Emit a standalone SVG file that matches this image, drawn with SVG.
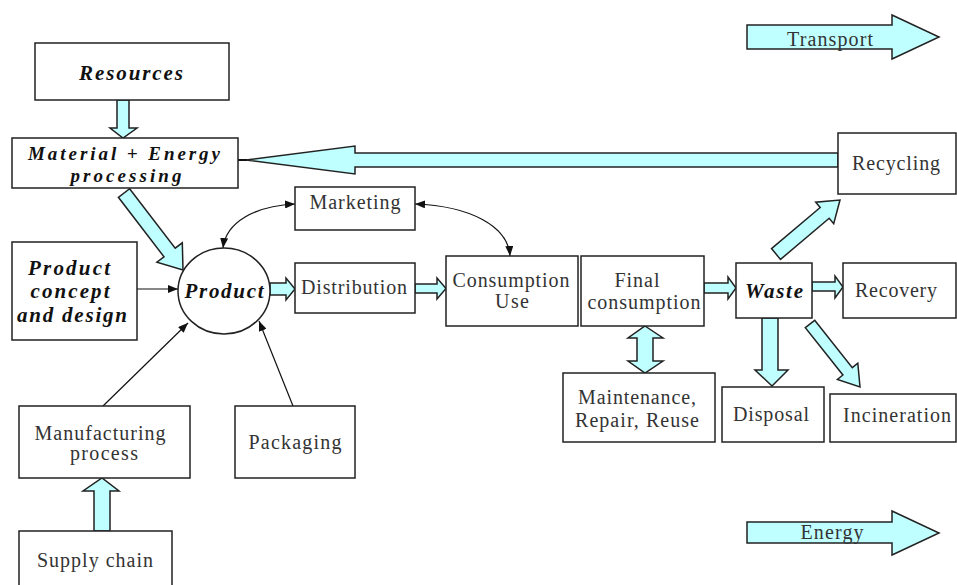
<svg xmlns="http://www.w3.org/2000/svg" width="957" height="585" viewBox="0 0 957 585">
<defs>
<style>
.box{fill:#fff;stroke:#222;stroke-width:1.5}
.fat{fill:#bfffff;stroke:#222;stroke-width:1.5;stroke-linejoin:miter}
.ln{fill:none;stroke:#111;stroke-width:1.2}
.t{font-family:"Liberation Serif","Times New Roman",serif;font-size:20px;fill:#333;text-anchor:middle}
.b{font-family:"Liberation Serif","Times New Roman",serif;font-size:21px;font-weight:bold;font-style:italic;fill:#111;text-anchor:middle}
.bs{font-size:19px}
</style>
<marker id="ah" viewBox="0 0 10 8" refX="10" refY="4" markerWidth="10" markerHeight="8" markerUnits="userSpaceOnUse" orient="auto-start-reverse">
<path d="M0,0 L10,4 L0,8 Z" fill="#111"/>
</marker>
</defs>
<rect width="957" height="585" fill="#fff"/>

<g id="connectors">
<polygon class="fat" points="117,100 129,100 129,128 137,128 123,138 110,128 117,128"/>
<polygon class="fat" points="129.6,188.7 175.2,248.2 182.3,242.8 183,270 156.9,262.2 164,256.8 118.4,197.3"/>
<polygon class="fat" points="838,153 355,153 355,146 246,160 355,174 355,167 838,167"/>
<line class="ln" x1="238" y1="160" x2="247" y2="160" style="stroke-width:2"/>
<polygon class="fat" points="270,283 286,283 286,278 295,289 286,300 286,295 270,295"/>
<polygon class="fat" points="415,284 437,284 437,278 446,288.5 437,299 437,293 415,293"/>
<polygon class="fat" points="704,283 728,283 728,277 736,288 728,299 728,293 704,293"/>
<polygon class="fat" points="812,282 835,282 835,276 843,287 835,298 835,291 812,291"/>
<polygon class="fat" points="771.5,248.6 820.2,207.5 815.7,202.2 840,200 833.7,223.7 829.2,218.3 780.5,259.4"/>
<polygon class="fat" points="762,318 778,318 778,370 788,370 772,386 755,370 762,370"/>
<polygon class="fat" points="814.7,320.3 852.3,367.6 857.8,363.2 860,387 837.4,379.4 842.9,375 805.3,327.7"/>
<polygon class="fat" points="645,326 663,338 653,338 653,361 663,361 645,373 628,361 637,361 637,338 628,338"/>
<polygon class="fat" points="94,531 110,531 110,491 119,491 102,478 83,491 94,491"/>
<line class="ln" x1="137" y1="289" x2="178" y2="289" marker-end="url(#ah)"/>
<line class="ln" x1="103" y1="406" x2="188" y2="323" marker-end="url(#ah)"/>
<line class="ln" x1="293" y1="406" x2="259" y2="321" marker-end="url(#ah)"/>
<path class="ln" d="M295,204 C255,206 226,222 223,248" marker-start="url(#ah)" marker-end="url(#ah)"/>
<path class="ln" d="M415,204 C470,206 508,226 510,256" marker-start="url(#ah)" marker-end="url(#ah)"/>
</g>

<g id="transport">
<polygon class="fat" points="747,25 892,25 892,15 939,37 892,59 892,49 747,49"/>
<text class="t" x="830" y="46" textLength="86" lengthAdjust="spacing">Transport</text>
</g>
<g id="energy">
<polygon class="fat" points="747,522 892,522 892,511 939,533 892,555 892,543 747,543"/>
<text class="t" x="832" y="539" textLength="63" lengthAdjust="spacing">Energy</text>
</g>

<g id="resources">
<rect class="box" x="35" y="43" width="194" height="57"/>
<text class="b" x="131" y="80" textLength="104" lengthAdjust="spacing">Resources</text>
</g>
<g id="material">
<rect class="box" x="12" y="138" width="226" height="50"/>
<text class="b bs" x="124" y="160" textLength="192" lengthAdjust="spacing">Material + Energy</text>
<text class="b bs" x="126" y="182" textLength="111" lengthAdjust="spacing">processing</text>
</g>
<g id="marketing">
<rect class="box" x="295" y="187" width="120" height="43"/>
<text class="t" x="355" y="209" textLength="91" lengthAdjust="spacing">Marketing</text>
</g>
<g id="concept">
<rect class="box" x="12" y="242" width="125" height="98"/>
<text class="b" x="69" y="275" textLength="82" lengthAdjust="spacing">Product</text>
<text class="b" x="70" y="298" textLength="79" lengthAdjust="spacing">concept</text>
<text class="b" x="72" y="322" textLength="110" lengthAdjust="spacing">and design</text>
</g>
<g id="product">
<ellipse class="box" cx="224" cy="291" rx="46" ry="43"/>
<text class="b" x="224" y="298" textLength="79" lengthAdjust="spacing">Product</text>
</g>
<g id="distribution">
<rect class="box" x="295" y="263" width="120" height="50"/>
<text class="t" x="354" y="294" textLength="106" lengthAdjust="spacing">Distribution</text>
</g>
<g id="consumption">
<rect class="box" x="446" y="256" width="132" height="70"/>
<text class="t" x="511" y="287" textLength="117" lengthAdjust="spacing">Consumption</text>
<text class="t" x="512" y="308" textLength="34" lengthAdjust="spacing">Use</text>
</g>
<g id="final">
<rect class="box" x="581" y="256" width="123" height="70"/>
<text class="t" x="637" y="287" textLength="45" lengthAdjust="spacing">Final</text>
<text class="t" x="644" y="309" textLength="113" lengthAdjust="spacing">consumption</text>
</g>
<g id="waste">
<rect class="box" x="736" y="263" width="76" height="55"/>
<text class="b" x="774" y="298" textLength="58" lengthAdjust="spacing">Waste</text>
</g>
<g id="recovery">
<rect class="box" x="843" y="263" width="113" height="55"/>
<text class="t" x="896" y="297" textLength="82" lengthAdjust="spacing">Recovery</text>
</g>
<g id="recycling">
<rect class="box" x="838" y="133" width="118" height="61"/>
<text class="t" x="896" y="170" textLength="88" lengthAdjust="spacing">Recycling</text>
</g>
<g id="maintenance">
<rect class="box" x="563" y="373" width="152" height="69"/>
<text class="t" x="637" y="404" textLength="118" lengthAdjust="spacing">Maintenance,</text>
<text class="t" x="637" y="427" textLength="124" lengthAdjust="spacing">Repair, Reuse</text>
</g>
<g id="disposal">
<rect class="box" x="722" y="387" width="102" height="55"/>
<text class="t" x="771" y="421" textLength="76" lengthAdjust="spacing">Disposal</text>
</g>
<g id="incineration">
<rect class="box" x="830" y="394" width="126" height="48"/>
<text class="t" x="897" y="422" textLength="108" lengthAdjust="spacing">Incineration</text>
</g>
<g id="manufacturing">
<rect class="box" x="19" y="406" width="171" height="72"/>
<text class="t" x="100" y="440" textLength="131" lengthAdjust="spacing">Manufacturing</text>
<text class="t" x="104" y="460" textLength="68" lengthAdjust="spacing">process</text>
</g>
<g id="packaging">
<rect class="box" x="235" y="406" width="120" height="72"/>
<text class="t" x="295" y="449" textLength="93" lengthAdjust="spacing">Packaging</text>
</g>
<g id="supply">
<rect class="box" x="19" y="531" width="153" height="60"/>
<text class="t" x="95" y="567" textLength="116" lengthAdjust="spacing">Supply chain</text>
</g>
</svg>
